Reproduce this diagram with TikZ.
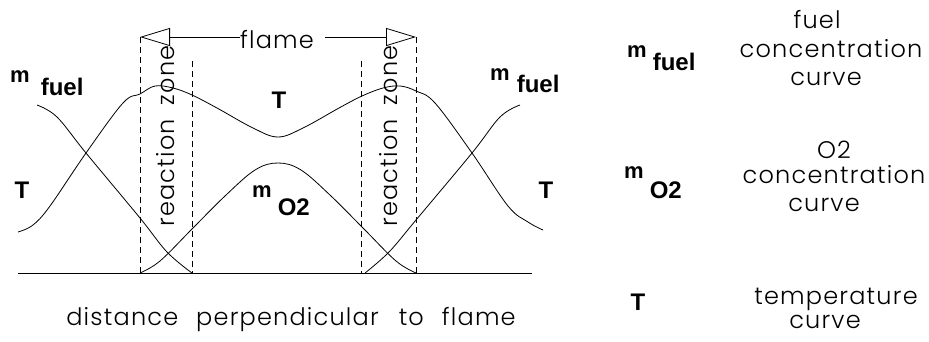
\documentclass[tikz,border=0pt]{standalone}
\usepackage{fontspec}
\usetikzlibrary{arrows.meta}
\IfFontExistsTF{Poppins Light}{\newfontfamily\thinfont{Poppins Light}[LetterSpace=5]}{\newfontfamily\thinfont{Poppins}[LetterSpace=5]}
\newfontfamily\labfont{Liberation Sans}
\newcommand\msub[3]{{\fontsize{22}{22}\selectfont m}\hspace{#3}\raisebox{-#2}{#1}}
\begin{document}
\begin{tikzpicture}[x=1pt,y=-1pt,
  thin/.style={font=\thinfont\fontsize{24}{28}\selectfont, inner sep=0pt},
  lab/.style={font=\labfont\bfseries\fontsize{24}{24}\selectfont, inner sep=0pt},
  crv/.style={line width=0.8pt, line join=round},
  zoneline/.style={line width=0.8pt, dash pattern=on 6pt off 4pt},
  flamearrow/.style={line width=0.8pt, -{Triangle[open,length=30pt,width=18pt]}}]
\useasboundingbox (0,0) rectangle (929,341);
% axis
\coordinate (ax0) at (18,273);
\coordinate (ax1) at (532,273);
\draw[line width=1pt] (ax0) -- (ax1);
% dashed reaction zone boundaries
\coordinate (tl) at (140,37);
\coordinate (tr) at (416,37);
\coordinate (il) at (192,61);
\coordinate (ir) at (361,61);
\draw[zoneline] (tl) -- (tl |- ax0);
\draw[zoneline] (il) -- (il |- ax0);
\draw[zoneline] (ir) -- (ir |- ax0);
\draw[zoneline] (tr) -- (tr |- ax0);
% flame arrow
\node[thin, anchor=base] (flame) at (277,48) {flame};
\coordinate (fl) at (240,37);
\coordinate (fr) at (325,37);
\draw[flamearrow] (fl) -- (tl);
\draw[flamearrow] (fr) -- (tr);
% temperature curve
\draw[crv] plot[smooth, tension=0.6] coordinates {(18,232) (33,225) (50,206) (86,153) (123,103) (140,94) (155,86) (173,88) (192,95) (217,108) (253,128) (278,137) (303,128) (339,108) (362,96) (383,88) (400,86) (416,91) (435,103) (472,153) (508,206) (528,222) (543,230)};
% fuel curves
\draw[crv] plot[smooth, tension=0.6] coordinates {(37,105) (57,117) (86,153) (140,218) (167,252) (192,273)};
\draw[crv] plot[smooth, tension=0.6] coordinates {(365,273) (389,252) (416,220) (472,153) (500,117) (520,105)};
% O2 curve
\draw[crv] plot[smooth, tension=0.6] coordinates {(140,273) (160,261) (192,229) (225,196) (255,170) (278,163) (301,170) (331,196) (364,229) (396,261) (416,273)};
% reaction zone labels
\node[thin, rotate=90, anchor=base] (rzL) at (174,136) {reaction\hspace{14pt}zone};
\node[thin, rotate=90, anchor=base] (rzR) at (397,136) {reaction\hspace{14pt}zone};
% curve labels
\node[lab, anchor=base west] (mfL) at (10,82) {\msub{fuel}{13pt}{11pt}};
\node[lab, anchor=base west] (mfR) at (490,80) {\msub{fuel}{12pt}{7pt}};
\node[lab, anchor=base west] (mO) at (252,197) {\msub{O2}{18pt}{6pt}};
\node[lab, anchor=base] (TC) at (279,108) {T};
\node[lab, anchor=base] (TL) at (22,198) {T};
\node[lab, anchor=base] (TR) at (546,198) {T};
% axis caption
\node[thin, anchor=base] (cap) at (291,325) {distance\hspace{18pt}perpendicular\hspace{20pt}to\hspace{18pt}flame};
% legend
\node[lab, anchor=base west] (lgf) at (627,57) {\msub{fuel}{13pt}{6pt}};
\node[lab, anchor=base west] (lgo) at (624,178) {\msub{O2}{20pt}{6pt}};
\node[lab, anchor=base] (lgt) at (638,310) {T};
\node[thin, anchor=base] (d1a) at (817,28) {fuel};
\node[thin, anchor=base] (d1b) at (831,57) {concentration};
\node[thin, anchor=base] (d1c) at (826,85) {curve};
\node[thin, anchor=base] (d2a) at (834,158) {O2};
\node[thin, anchor=base] (d2b) at (834,183) {concentration};
\node[thin, anchor=base] (d2c) at (824,211) {curve};
\node[thin, anchor=base] (d3a) at (836,304) {temperature};
\node[thin, anchor=base] (d3b) at (825,328) {curve};
\end{tikzpicture}
\end{document}
